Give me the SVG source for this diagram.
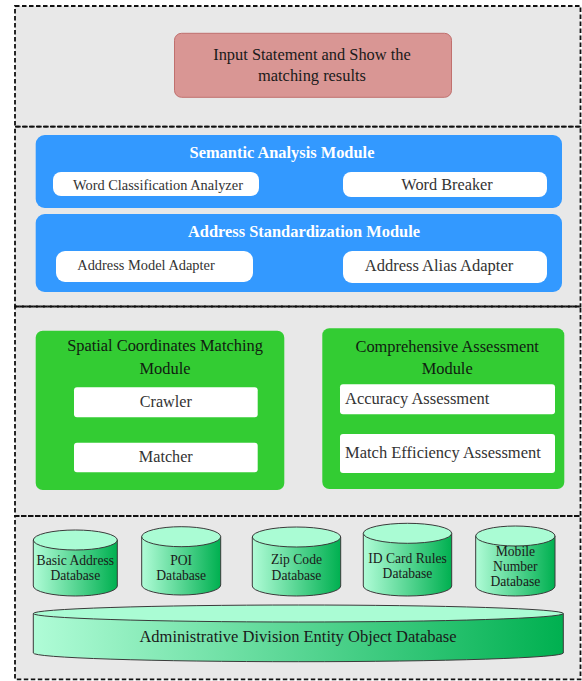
<svg xmlns="http://www.w3.org/2000/svg" width="582" height="681" viewBox="0 0 582 681">
<defs>
<style>
.sec{fill:none;stroke:#111;stroke-width:1.8;stroke-dasharray:4.5 2.5}
.t{font-family:"Liberation Serif","Times New Roman",serif;text-anchor:middle}
.ts{font-family:"Liberation Serif","Times New Roman",serif;text-anchor:start}
.hd{font-weight:bold;fill:#fff;font-size:16.4px}
.pill{fill:#fff}
.bx{fill:#fff}
.gt{fill:#102010;font-size:16.4px}
.wt{fill:#333}
.body{fill:url(#gBody);stroke:#3a3a3a;stroke-width:1}
.top{fill:#aafcd4;stroke:#3a3a3a;stroke-width:1}
.ct{fill:#1a1a1a;font-size:13.6px}
</style>
<linearGradient id="gBody" x1="0" y1="0" x2="1" y2="0">
<stop offset="0" stop-color="#b0fcd7"/>
<stop offset="1" stop-color="#00b050"/>
</linearGradient>
</defs>

<rect x="15" y="6" width="565.5" height="673.3" fill="#e8e8e8"/>
<g id="sections">
<rect class="sec" x="15" y="6" width="565.5" height="120.7"/>
<rect class="sec" x="15" y="126.7" width="565.5" height="179.8"/>
<rect class="sec" x="15" y="306.5" width="565.5" height="209.5"/>
<rect class="sec" x="15" y="516" width="565.5" height="163.3"/>
</g>

<g id="input">
<rect x="174.5" y="33.3" width="277" height="64" rx="7" fill="#d99694" stroke="#c0706e" stroke-width="1"/>
<text class="t" x="312" y="60" font-size="16.4" fill="#1a1a1a">Input Statement and Show the</text>
<text class="t" x="312" y="81" font-size="16.4" fill="#1a1a1a">matching results</text>
</g>

<g id="semantic">
<rect x="35.7" y="135" width="526.3" height="73" rx="9" fill="#3399ff"/>
<text class="t hd" x="282" y="157.5">Semantic Analysis Module</text>
<rect class="pill" x="53" y="172" width="206" height="24" rx="8"/>
<text class="t wt" x="158" y="190" font-size="14.4">Word Classification Analyzer</text>
<rect class="pill" x="343" y="172" width="204" height="25" rx="8"/>
<text class="t wt" x="447" y="189.5" font-size="16.3">Word Breaker</text>
</g>

<g id="standardization">
<rect x="35.7" y="214" width="526.3" height="78" rx="9" fill="#3399ff"/>
<text class="t hd" x="304" y="236.5">Address Standardization Module</text>
<rect class="pill" x="56" y="251" width="197" height="31" rx="9"/>
<text class="t wt" x="146" y="270" font-size="14.4">Address Model Adapter</text>
<rect class="pill" x="343" y="251" width="204" height="32" rx="9"/>
<text class="t wt" x="439" y="271" font-size="16.5">Address Alias Adapter</text>
</g>

<g id="spatial">
<rect x="35.7" y="330.7" width="248.6" height="159.3" rx="7" fill="#33cc33"/>
<text class="t gt" x="165" y="351">Spatial Coordinates Matching</text>
<text class="t gt" x="165" y="374">Module</text>
<rect class="bx" x="74" y="387.3" width="183.7" height="30" rx="3"/>
<text class="t wt" x="165.8" y="406.5" font-size="16.2">Crawler</text>
<rect class="bx" x="74" y="442.7" width="183.7" height="29.6" rx="3"/>
<text class="t wt" x="165.8" y="462" font-size="16.2">Matcher</text>
</g>

<g id="assessment">
<rect x="322.3" y="328.3" width="242" height="160.7" rx="7" fill="#33cc33"/>
<text class="t gt" x="447.2" y="351.7">Comprehensive Assessment</text>
<text class="t gt" x="447.2" y="374">Module</text>
<rect class="bx" x="340" y="384.3" width="215" height="30" rx="3"/>
<text class="ts wt" x="345" y="403.5" font-size="16.5">Accuracy Assessment</text>
<rect class="bx" x="340" y="434" width="215" height="39" rx="3"/>
<text class="ts wt" x="345" y="457.7" font-size="16.5">Match Efficiency Assessment</text>
</g>

<g id="db-basic">
<path class="body" d="M33.3,540 L33.3,586 A42,10 0 0 0 117.3,586 L117.3,540 Z"/>
<ellipse class="top" cx="75.3" cy="540" rx="42" ry="10"/>
<text class="t ct" x="75.3" y="565">Basic Address</text>
<text class="t ct" x="75.3" y="580">Database</text>
</g>

<g id="db-poi">
<path class="body" d="M141.7,536.7 L141.7,585 A39.5,10 0 0 0 220.7,585 L220.7,536.7 Z"/>
<ellipse class="top" cx="181.2" cy="536.7" rx="39.5" ry="10"/>
<text class="t ct" x="181.2" y="565">POI</text>
<text class="t ct" x="181.2" y="579.5">Database</text>
</g>

<g id="db-zip">
<path class="body" d="M252.3,537 L252.3,586 A44.2,10 0 0 0 340.7,586 L340.7,537 Z"/>
<ellipse class="top" cx="296.5" cy="537" rx="44.2" ry="10"/>
<text class="t ct" x="296.5" y="564">Zip Code</text>
<text class="t ct" x="296.5" y="579.5">Database</text>
</g>

<g id="db-idcard">
<path class="body" d="M363.3,533.3 L363.3,586 A44.2,10 0 0 0 451.7,586 L451.7,533.3 Z"/>
<ellipse class="top" cx="407.5" cy="533.3" rx="44.2" ry="10"/>
<text class="t ct" x="407.5" y="562.7">ID Card Rules</text>
<text class="t ct" x="407.5" y="577.7">Database</text>
</g>

<g id="db-mobile">
<path class="body" d="M475.7,536 L475.7,586 A39.65,10 0 0 0 555,586 L555,536 Z"/>
<ellipse class="top" cx="515.35" cy="536" rx="39.65" ry="10"/>
<text class="t ct" x="515.35" y="555.7">Mobile</text>
<text class="t ct" x="515.35" y="571.3">Number</text>
<text class="t ct" x="515.35" y="586.3">Database</text>
</g>

<g id="db-admin">
<path class="body" d="M33.3,613.5 L33.3,653 A265,8.7 0 0 0 563.3,653 L563.3,613.5 Z"/>
<ellipse class="top" cx="298.3" cy="613.5" rx="265" ry="8.5"/>
<text class="t" x="298" y="641.7" font-size="16.5" fill="#1a1a1a">Administrative Division Entity Object Database</text>
</g>

<g id="connectors"/>
</svg>
